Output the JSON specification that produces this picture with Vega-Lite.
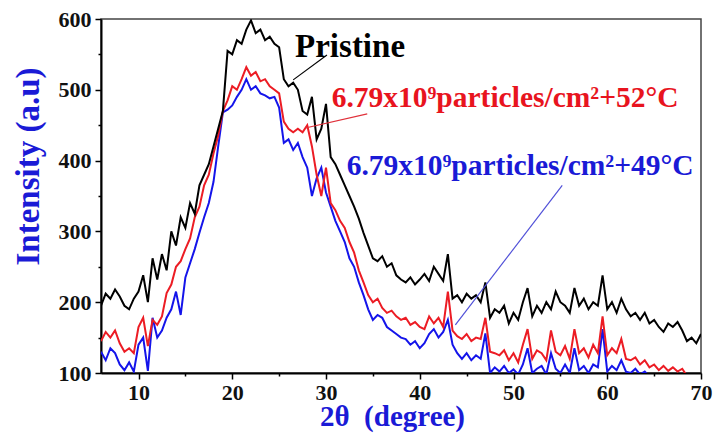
{
"$schema":"https://vega.github.io/schema/vega-lite/v6.json",
"width":600,"height":354,
"autosize":{"type":"none"},
"padding":{"left":101,"top":19,"right":12,"bottom":61},
"background":"white",
"config":{"view":{"stroke":"#444","strokeWidth":1.5},"font":"Liberation Serif"},
"datasets":{
"pristine":[{"x":6,"y":195},{"x":6.5,"y":212},{"x":7,"y":205},{"x":7.5,"y":218},{"x":8,"y":208},{"x":8.5,"y":195},{"x":9,"y":190},{"x":9.5,"y":205},{"x":10,"y":215},{"x":10.5,"y":238},{"x":11,"y":200},{"x":11.5,"y":262},{"x":12,"y":232},{"x":12.5,"y":268},{"x":13,"y":245},{"x":13.5,"y":300},{"x":14,"y":280},{"x":14.5,"y":320},{"x":15,"y":305},{"x":15.5,"y":340},{"x":16,"y":325},{"x":16.5,"y":365},{"x":17,"y":380},{"x":17.5,"y":395},{"x":18,"y":420},{"x":18.5,"y":445},{"x":19,"y":470},{"x":19.5,"y":555},{"x":20,"y":550},{"x":20.5,"y":570},{"x":21,"y":565},{"x":21.5,"y":585},{"x":22,"y":598},{"x":22.5,"y":580},{"x":23,"y":585},{"x":23.5,"y":570},{"x":24,"y":575},{"x":24.5,"y":565},{"x":25,"y":560},{"x":25.5,"y":515},{"x":26,"y":505},{"x":26.5,"y":510},{"x":27,"y":500},{"x":27.5,"y":470},{"x":28,"y":465},{"x":28.5,"y":490},{"x":29,"y":430},{"x":29.5,"y":445},{"x":30,"y":480},{"x":30.5,"y":405},{"x":31,"y":395},{"x":31.5,"y":380},{"x":32,"y":365},{"x":32.5,"y":350},{"x":33,"y":335},{"x":33.5,"y":318},{"x":34,"y":298},{"x":34.5,"y":280},{"x":35,"y":262},{"x":35.5,"y":258},{"x":36,"y":265},{"x":36.5,"y":250},{"x":37,"y":255},{"x":37.5,"y":238},{"x":38,"y":232},{"x":38.5,"y":228},{"x":39,"y":235},{"x":39.5,"y":225},{"x":40,"y":232},{"x":40.5,"y":240},{"x":41,"y":230},{"x":41.5,"y":250},{"x":42,"y":240},{"x":42.5,"y":230},{"x":43,"y":268},{"x":43.5,"y":205},{"x":44,"y":210},{"x":44.5,"y":200},{"x":45,"y":212},{"x":45.5,"y":205},{"x":46,"y":210},{"x":46.5,"y":200},{"x":47,"y":228},{"x":47.5,"y":178},{"x":48,"y":190},{"x":48.5,"y":185},{"x":49,"y":195},{"x":49.5,"y":170},{"x":50,"y":185},{"x":50.5,"y":175},{"x":51,"y":200},{"x":51.5,"y":220},{"x":52,"y":180},{"x":52.5,"y":195},{"x":53,"y":185},{"x":53.5,"y":200},{"x":54,"y":190},{"x":54.5,"y":215},{"x":55,"y":200},{"x":55.5,"y":195},{"x":56,"y":185},{"x":56.5,"y":220},{"x":57,"y":195},{"x":57.5,"y":205},{"x":58,"y":190},{"x":58.5,"y":200},{"x":59,"y":195},{"x":59.5,"y":238},{"x":60,"y":190},{"x":60.5,"y":200},{"x":61,"y":185},{"x":61.5,"y":205},{"x":62,"y":190},{"x":62.5,"y":180},{"x":63,"y":185},{"x":63.5,"y":175},{"x":64,"y":185},{"x":64.5,"y":170},{"x":65,"y":175},{"x":65.5,"y":165},{"x":66,"y":158},{"x":66.5,"y":170},{"x":67,"y":165},{"x":67.5,"y":172},{"x":68,"y":160},{"x":68.5,"y":145},{"x":69,"y":150},{"x":69.5,"y":142},{"x":70,"y":155}],
"c52":[{"x":6,"y":145},{"x":6.5,"y":158},{"x":7,"y":150},{"x":7.5,"y":160},{"x":8,"y":142},{"x":8.5,"y":130},{"x":9,"y":135},{"x":9.5,"y":128},{"x":10,"y":165},{"x":10.5,"y":178},{"x":11,"y":138},{"x":11.5,"y":175},{"x":12,"y":168},{"x":12.5,"y":180},{"x":13,"y":213},{"x":13.5,"y":225},{"x":14,"y":250},{"x":14.5,"y":258},{"x":15,"y":275},{"x":15.5,"y":290},{"x":16,"y":320},{"x":16.5,"y":335},{"x":17,"y":365},{"x":17.5,"y":380},{"x":18,"y":410},{"x":18.5,"y":435},{"x":19,"y":470},{"x":19.5,"y":485},{"x":20,"y":505},{"x":20.5,"y":500},{"x":21,"y":515},{"x":21.5,"y":532},{"x":22,"y":520},{"x":22.5,"y":525},{"x":23,"y":512},{"x":23.5,"y":515},{"x":24,"y":505},{"x":24.5,"y":500},{"x":25,"y":495},{"x":25.5,"y":455},{"x":26,"y":445},{"x":26.5,"y":440},{"x":27,"y":445},{"x":27.5,"y":440},{"x":28,"y":450},{"x":28.5,"y":420},{"x":29,"y":380},{"x":29.5,"y":350},{"x":30,"y":390},{"x":30.5,"y":340},{"x":31,"y":330},{"x":31.5,"y":315},{"x":32,"y":305},{"x":32.5,"y":285},{"x":33,"y":270},{"x":33.5,"y":245},{"x":34,"y":228},{"x":34.5,"y":210},{"x":35,"y":200},{"x":35.5,"y":205},{"x":36,"y":192},{"x":36.5,"y":185},{"x":37,"y":188},{"x":37.5,"y":180},{"x":38,"y":175},{"x":38.5,"y":178},{"x":39,"y":168},{"x":39.5,"y":172},{"x":40,"y":165},{"x":40.5,"y":162},{"x":41,"y":180},{"x":41.5,"y":170},{"x":42,"y":178},{"x":42.5,"y":165},{"x":43,"y":215},{"x":43.5,"y":160},{"x":44,"y":152},{"x":44.5,"y":148},{"x":45,"y":155},{"x":45.5,"y":145},{"x":46,"y":150},{"x":46.5,"y":148},{"x":47,"y":178},{"x":47.5,"y":130},{"x":48,"y":128},{"x":48.5,"y":125},{"x":49,"y":132},{"x":49.5,"y":118},{"x":50,"y":128},{"x":50.5,"y":115},{"x":51,"y":140},{"x":51.5,"y":162},{"x":52,"y":120},{"x":52.5,"y":132},{"x":53,"y":128},{"x":53.5,"y":118},{"x":54,"y":160},{"x":54.5,"y":130},{"x":55,"y":125},{"x":55.5,"y":138},{"x":56,"y":120},{"x":56.5,"y":162},{"x":57,"y":128},{"x":57.5,"y":135},{"x":58,"y":122},{"x":58.5,"y":140},{"x":59,"y":128},{"x":59.5,"y":180},{"x":60,"y":125},{"x":60.5,"y":135},{"x":61,"y":128},{"x":61.5,"y":148},{"x":62,"y":120},{"x":62.5,"y":118},{"x":63,"y":122},{"x":63.5,"y":112},{"x":64,"y":118},{"x":64.5,"y":108},{"x":65,"y":112},{"x":65.5,"y":104},{"x":66,"y":110},{"x":66.5,"y":103},{"x":67,"y":108},{"x":67.5,"y":102},{"x":68,"y":106},{"x":68.5,"y":96},{"x":69,"y":92},{"x":69.5,"y":94},{"x":70,"y":90}],
"c49":[{"x":6,"y":130},{"x":6.5,"y":118},{"x":7,"y":135},{"x":7.5,"y":128},{"x":8,"y":112},{"x":8.5,"y":104},{"x":9,"y":115},{"x":9.5,"y":102},{"x":10,"y":140},{"x":10.5,"y":150},{"x":11,"y":103},{"x":11.5,"y":178},{"x":12,"y":150},{"x":12.5,"y":160},{"x":13,"y":178},{"x":13.5,"y":190},{"x":14,"y":215},{"x":14.5,"y":182},{"x":15,"y":235},{"x":15.5,"y":255},{"x":16,"y":275},{"x":16.5,"y":298},{"x":17,"y":320},{"x":17.5,"y":340},{"x":18,"y":370},{"x":18.5,"y":420},{"x":19,"y":468},{"x":19.5,"y":472},{"x":20,"y":478},{"x":20.5,"y":490},{"x":21,"y":500},{"x":21.5,"y":515},{"x":22,"y":500},{"x":22.5,"y":505},{"x":23,"y":495},{"x":23.5,"y":492},{"x":24,"y":488},{"x":24.5,"y":490},{"x":25,"y":475},{"x":25.5,"y":425},{"x":26,"y":430},{"x":26.5,"y":415},{"x":27,"y":425},{"x":27.5,"y":405},{"x":28,"y":390},{"x":28.5,"y":350},{"x":29,"y":375},{"x":29.5,"y":390},{"x":30,"y":355},{"x":30.5,"y":335},{"x":31,"y":315},{"x":31.5,"y":300},{"x":32,"y":285},{"x":32.5,"y":262},{"x":33,"y":250},{"x":33.5,"y":228},{"x":34,"y":210},{"x":34.5,"y":190},{"x":35,"y":175},{"x":35.5,"y":182},{"x":36,"y":178},{"x":36.5,"y":165},{"x":37,"y":160},{"x":37.5,"y":155},{"x":38,"y":150},{"x":38.5,"y":148},{"x":39,"y":140},{"x":39.5,"y":145},{"x":40,"y":135},{"x":40.5,"y":142},{"x":41,"y":155},{"x":41.5,"y":162},{"x":42,"y":150},{"x":42.5,"y":158},{"x":43,"y":175},{"x":43.5,"y":140},{"x":44,"y":128},{"x":44.5,"y":120},{"x":45,"y":128},{"x":45.5,"y":118},{"x":46,"y":125},{"x":46.5,"y":120},{"x":47,"y":156},{"x":47.5,"y":100},{"x":48,"y":108},{"x":48.5,"y":102},{"x":49,"y":110},{"x":49.5,"y":100},{"x":50,"y":105},{"x":50.5,"y":98},{"x":51,"y":112},{"x":51.5,"y":135},{"x":52,"y":100},{"x":52.5,"y":106},{"x":53,"y":110},{"x":53.5,"y":98},{"x":54,"y":128},{"x":54.5,"y":106},{"x":55,"y":100},{"x":55.5,"y":112},{"x":56,"y":100},{"x":56.5,"y":135},{"x":57,"y":104},{"x":57.5,"y":110},{"x":58,"y":100},{"x":58.5,"y":112},{"x":59,"y":108},{"x":59.5,"y":162},{"x":60,"y":102},{"x":60.5,"y":110},{"x":61,"y":104},{"x":61.5,"y":118},{"x":62,"y":102},{"x":62.5,"y":100},{"x":63,"y":106},{"x":63.5,"y":98},{"x":64,"y":102},{"x":64.5,"y":95},{"x":65,"y":92},{"x":65.5,"y":94},{"x":66,"y":90},{"x":66.5,"y":92},{"x":67,"y":90},{"x":67.5,"y":91},{"x":68,"y":89},{"x":68.5,"y":90},{"x":69,"y":88},{"x":69.5,"y":89},{"x":70,"y":88}]
},
"layer":[
{
"encoding":{
"x":{"field":"x","type":"quantitative","scale":{"domain":[6,70],"nice":false,"zero":false},
"axis":{"values":[10,20,30,40,50,60,70],"title":"2θ\u00a0 (degree)","titleFont":"Liberation Serif","titleFontSize":29,"titleFontWeight":"bold","titleColor":"#1a1ad6","titleX":291,"titleY":43,"titleBaseline":"middle","titleAlign":"center","labelFont":"Liberation Serif","labelFontSize":22,"labelFontWeight":"bold","labelColor":"#111","labelPadding":3,"labelFlush":false,"labelOverlap":false,"tickSize":6,"tickWidth":1.5,"tickColor":"#000","domainColor":"#000","domainWidth":2,"grid":false}},
"y":{"field":"y","type":"quantitative","scale":{"domain":[100,600],"nice":false,"zero":false},
"axis":{"values":[100,200,300,400,500,600],"title":"Intensity (a.u)","titleFont":"Liberation Serif","titleFontSize":33,"titleFontWeight":"bold","titleColor":"#1a1ad6","titleX":-73,"titleY":147,"titleBaseline":"middle","titleAlign":"center","labelFont":"Liberation Serif","labelFontSize":22,"labelFontWeight":"bold","labelColor":"#111","labelPadding":4,"labelFlush":false,"labelOverlap":false,"tickSize":6,"tickWidth":1.5,"tickColor":"#000","domainColor":"#000","domainWidth":2,"grid":false}}
},
"layer":[
{"data":{"name":"c49"},"mark":{"type":"line","color":"#1414ea","strokeWidth":2,"clip":true}},
{"data":{"name":"c52"},"mark":{"type":"line","color":"#ec1c24","strokeWidth":2,"clip":true}},
{"data":{"name":"pristine"},"mark":{"type":"line","color":"#000000","strokeWidth":2,"clip":true}},
{"data":{"values":[{"x":30.1,"y":549,"x2":26.5,"y2":514}]},"mark":{"type":"rule","color":"#000","strokeWidth":1.2},"encoding":{"x2":{"field":"x2"},"y2":{"field":"y2"}}},
{"data":{"values":[{"x":34.4,"y":466,"x2":27.8,"y2":446}]},"mark":{"type":"rule","color":"#e0303a","strokeWidth":1.2},"encoding":{"x2":{"field":"x2"},"y2":{"field":"y2"}}},
{"data":{"values":[{"x":55.2,"y":365,"x2":43.8,"y2":168}]},"mark":{"type":"rule","color":"#5050d8","strokeWidth":1.2},"encoding":{"x2":{"field":"x2"},"y2":{"field":"y2"}}},
{"data":{"values":[{"x":26.7,"y":546,"t":"Pristine"}]},"mark":{"type":"text","font":"Liberation Serif","fontWeight":"bold","fontSize":33,"align":"left","baseline":"alphabetic","color":"#000"},"encoding":{"text":{"field":"t"}}},
{"data":{"values":[{"x":30.6,"y":476,"t":"6.79x10⁹particles/cm²+52°C"}]},"mark":{"type":"text","font":"Liberation Serif","fontWeight":"bold","fontSize":29.5,"align":"left","baseline":"alphabetic","color":"#e8141e"},"encoding":{"text":{"field":"t"}}},
{"data":{"values":[{"x":32.2,"y":380,"t":"6.79x10⁹particles/cm²+49°C"}]},"mark":{"type":"text","font":"Liberation Serif","fontWeight":"bold","fontSize":29.5,"align":"left","baseline":"alphabetic","color":"#1a1ad6"},"encoding":{"text":{"field":"t"}}}
]
},
{
"data":{"values":[{"x":6,"y":100}]},
"mark":{"type":"point","opacity":0},
"encoding":{
"x":{"field":"x","type":"quantitative","scale":{"domain":[6,70],"nice":false,"zero":false},"axis":{"orient":"bottom","values":[15,25,35,45,55,65],"labels":false,"domain":false,"tickSize":3,"tickWidth":1.5,"tickColor":"#000","title":null,"grid":false}},
"y":{"field":"y","type":"quantitative","scale":{"domain":[100,600],"nice":false,"zero":false},"axis":{"orient":"left","values":[150,250,350,450,550],"labels":false,"domain":false,"tickSize":3,"tickWidth":1.5,"tickColor":"#000","title":null,"grid":false}}
}
}
],
"resolve":{"axis":{"x":"independent","y":"independent"}}
}
